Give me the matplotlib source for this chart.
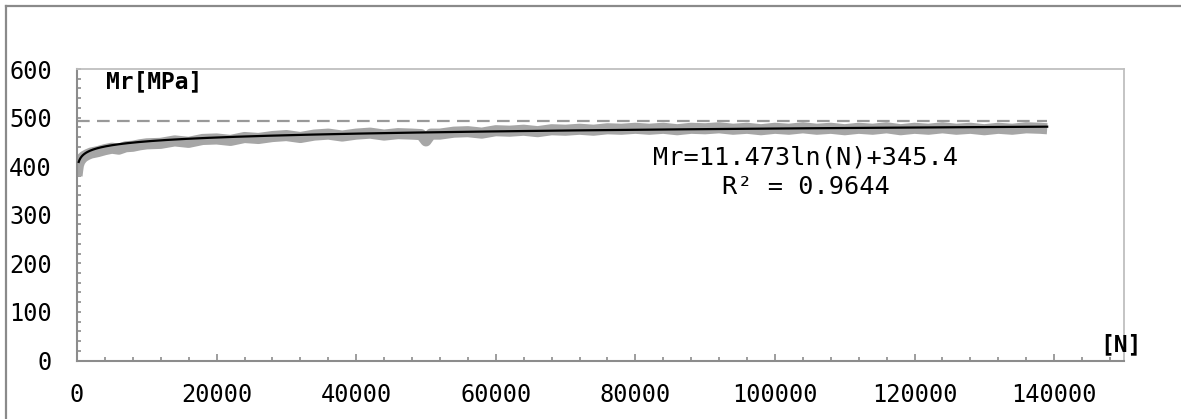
import numpy as np
import matplotlib
matplotlib.use('Agg')
import matplotlib.pyplot as plt
from matplotlib.ticker import MultipleLocator
from matplotlib.lines import Line2D

n_cycles = [0, 100, 200, 400, 700, 1000, 1500, 2000, 3000, 4000, 5000, 6000, 7000,
            8000, 9000, 10000, 12000, 14000, 16000, 18000, 20000, 22000, 24000,
            26000, 28000, 30000, 32000, 34000, 36000, 38000, 40000, 42000, 44000,
            46000, 48000, 49300, 50000, 50700, 52000, 54000, 56000, 58000, 60000,
            62000, 64000, 66000, 68000, 70000, 72000, 74000, 76000, 78000, 80000,
            82000, 84000, 86000, 88000, 90000, 92000, 94000, 96000, 98000, 100000,
            102000, 104000, 106000, 108000, 110000, 112000, 114000, 116000, 118000,
            120000, 122000, 124000, 126000, 128000, 130000, 132000, 134000, 136000,
            138000, 139000]
mr_values = [380, 392, 402, 410, 416, 420, 424, 427, 430, 434, 437, 435, 440,
             441, 444, 446, 447, 452, 449, 455, 456, 453, 459,
             457, 461, 463, 459, 464, 466, 462, 466, 468, 464,
             467, 466, 465, 452, 466, 466, 470, 471, 468, 473,
             472, 474, 471, 475, 474, 476, 474, 477, 476, 478,
             476, 478, 475, 478, 477, 479, 476, 478, 475, 478,
             476, 479, 476, 478, 475, 478, 476, 479, 475,
             478, 476, 479, 476, 478, 475, 478, 476, 479,
             478, 477]

# log trendline shown on the chart: Mr = a*ln(N) + b
fit_a = 11.473
fit_b = 345.4
fit_range = [250, 139000]

ref_level = 493          # dashed reference line
ref_span = [0, 139000]

font = 'DejaVu Sans Mono'
axis_col = '#8c8c8c'

fig = plt.figure(figsize=(11.81, 4.19), dpi=100)
ax = fig.add_axes([0.0652, 0.1396, 0.8865, 0.6957])

ax.plot(n_cycles, mr_values, color='#a6a6a6', lw=8, solid_joinstyle='round',
        solid_capstyle='butt', zorder=2)
xs = np.geomspace(fit_range[0], fit_range[1], 400)
ax.plot(xs, fit_a * np.log(xs) + fit_b, color='black', lw=1.6, zorder=3)
ax.plot(ref_span, [ref_level, ref_level], color='#999999', lw=1.6,
        dashes=(5.7, 3.3), zorder=2)

ax.set_xlim(0, 150000)
ax.set_ylim(0, 600)
ax.xaxis.set_minor_locator(MultipleLocator(4000))
ax.yaxis.set_major_locator(MultipleLocator(100))
ax.yaxis.set_minor_locator(MultipleLocator(20))
ax.set_xticks(range(0, 140001, 20000))
ax.set_xticklabels([str(v) for v in range(0, 140001, 20000)])

for side in ['left', 'bottom']:
    ax.spines[side].set_color(axis_col)
    ax.spines[side].set_linewidth(1.5)
for side in ['top', 'right']:
    ax.spines[side].set_color('#bfbfbf')
    ax.spines[side].set_linewidth(1.3)

ax.tick_params(axis='x', which='major', direction='in', length=5, width=1.2,
               color=axis_col, pad=16, labelsize=17)
ax.tick_params(axis='x', which='minor', direction='in', length=2.8, width=1.2,
               color=axis_col)
ax.tick_params(axis='y', which='both', direction='in', length=3, width=1.2,
               color=axis_col, pad=18, labelsize=17)
for lab in ax.get_xticklabels() + ax.get_yticklabels():
    lab.set_family(font)

ax.text(0.0275, 0.955, 'Mr[MPa]', transform=ax.transAxes, family=font,
        fontsize=16.5, fontweight='bold', ha='left', va='center')
ax.text(0.997, 0.055, '[N]', transform=ax.transAxes, family=font,
        fontsize=16.5, fontweight='bold', ha='center', va='center')
ax.text(0.696, 0.645, 'Mr=11.473ln(N)+345.4\nR² = 0.9644', transform=ax.transAxes,
        family=font, fontsize=18.2, ha='center', va='center', linespacing=1.3)

# outer chart border (left and top edges visible)
fig.add_artist(Line2D([6 / 1181, 6 / 1181], [0, 1 - 6 / 419], color='#8a8a8a',
                      lw=1.6, transform=fig.transFigure))
fig.add_artist(Line2D([6 / 1181, 1], [1 - 6 / 419, 1 - 6 / 419], color='#8a8a8a',
                      lw=1.6, transform=fig.transFigure))

fig.savefig('out.png', dpi=100)
